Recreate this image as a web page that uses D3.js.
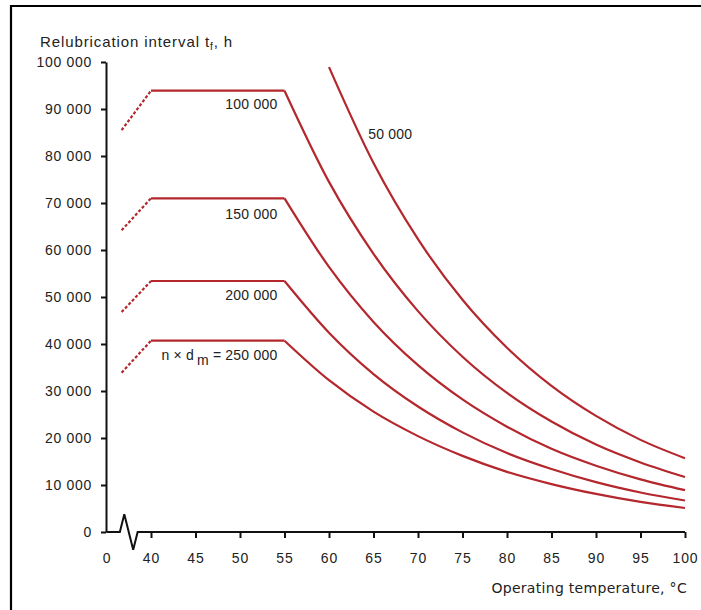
<!DOCTYPE html>
<html>
<head>
<meta charset="utf-8">
<script src="https://cdn.jsdelivr.net/npm/d3@7"></script>
<style>
  body { margin: 0; background: #fff; }
  text { font-family: "Liberation Sans", Arial, sans-serif; fill: #222; }
</style>
</head>
<body>
<script>
// data
const temps = [55, 60, 65, 70, 75, 80, 85, 90, 95, 100];
const temps50k = [60, 65, 70, 75, 80, 85, 90, 95, 100];
const life50k  = [98900, 78500, 62300, 49400, 39200, 31100, 24700, 19600, 15700];
const life100k = [93900, 74500, 59200, 47000, 37300, 29600, 23500, 18600, 14800, 11700];
const life150k = [71000, 56400, 44700, 35500, 28200, 22400, 17700, 14100, 11200, 8900];
const life200k = [53400, 42400, 33600, 26700, 21200, 16800, 13400, 10600, 8400, 6700];
const life250k = [40700, 32300, 25600, 20400, 16200, 12800, 10200, 8100, 6400, 5100];
const dashTemp = 36.7;
const dashStart = [85500, 64200, 46800, 33900];   // dashed part, for 100k..250k
const flatTemp = 40;

const xTicks = [35, 40, 45, 50, 55, 60, 65, 70, 75, 80, 85, 90, 95, 100];
const xTickLabels = ["0", "40", "45", "50", "55", "60", "65", "70", "75", "80", "85", "90", "95", "100"];
const yTicks = [0, 10000, 20000, 30000, 40000, 50000, 60000, 70000, 80000, 90000, 100000];

const labels = [
  {text: "100 000", t: 54.2, v: 90000, anchor: "end"},
  {text: "150 000", t: 54.2, v: 66600, anchor: "end"},
  {text: "200 000", t: 54.2, v: 49400, anchor: "end"},
  {text: "50 000", t: 64.4, v: 83600, anchor: "start"}
];

const W = 701, H = 610;
const red = "#b3272d";

const svg = d3.select("body").append("svg")
    .attr("width", W)
    .attr("height", H);

// frame (only top + left edges show)
svg.append("path")
    .attr("d", "M11," + (H + 5) + "V6H" + (W + 5))
    .attr("fill", "none")
    .attr("stroke", "#000")
    .attr("stroke-width", 2.2);

const x = d3.scaleLinear().domain([35, 100]).range([106.5, 685]);
const y = d3.scaleLinear().domain([0, 100000]).range([532, 62]);

const fmt = v => d3.format(",")(v).replace(/,/g, " ");

// y axis
const yAxis = svg.append("g")
    .attr("transform", "translate(106,0)")
    .call(d3.axisLeft(y).tickValues(yTicks).tickSize(5).tickSizeOuter(0).tickFormat(fmt));
yAxis.select(".domain").attr("stroke", "#111").attr("stroke-width", 2);
yAxis.selectAll(".tick line").attr("stroke", "#111").attr("stroke-width", 2);
yAxis.selectAll(".tick text")
    .attr("x", -14)
    .style("font-size", "14px")
    .style("letter-spacing", "0.7px")
    .attr("fill", "#222");

// x axis with break
const xAxis = svg.append("g")
    .attr("transform", "translate(0,532)")
    .call(d3.axisBottom(x).tickValues(xTicks).tickSize(6).tickSizeOuter(0)
        .tickFormat((d, i) => xTickLabels[i]));
xAxis.select(".domain").remove();
xAxis.selectAll(".tick line")
    .attr("stroke", "#111").attr("stroke-width", 2)
    .attr("display", d => d === 35 ? "none" : null);
xAxis.selectAll(".tick text")
    .attr("y", 21)
    .style("font-size", "14px")
    .style("letter-spacing", "0.9px")
    .attr("fill", "#222");

// axis line with zigzag break
const brk = [[35, 0], [36.5, 0], [37.0, 3800], [38.0, -3800], [38.5, 0], [100, 0]];
svg.append("path")
    .attr("d", d3.line().x(d => x(d[0])).y(d => y(d[1]))(brk))
    .attr("fill", "none")
    .attr("stroke", "#111")
    .attr("stroke-width", 2);

// curves
const line = d3.line()
    .x(d => x(d[0]))
    .y(d => y(d[1]))
    .curve(d3.curveMonotoneX);

const series = [life100k, life150k, life200k, life250k];
series.forEach(function (vals, i) {
    const pts = [[flatTemp, vals[0]]].concat(temps.map((t, j) => [t, vals[j]]));
    // flat part straight, then curve
    svg.append("path")
        .attr("d", d3.line().x(d => x(d[0])).y(d => y(d[1]))(pts.slice(0, 2)))
        .attr("fill", "none").attr("stroke", red).attr("stroke-width", 2.2);
    svg.append("path")
        .attr("d", line(pts.slice(1)))
        .attr("fill", "none").attr("stroke", red).attr("stroke-width", 2.2)
        .attr("stroke-linejoin", "round");
    // dashed lead-in
    svg.append("path")
        .attr("d", d3.line().x(d => x(d[0])).y(d => y(d[1]))([[dashTemp, dashStart[i]], [flatTemp, vals[0]]]))
        .attr("fill", "none").attr("stroke", red).attr("stroke-width", 2.2)
        .attr("stroke-dasharray", "3,2");
});

svg.append("path")
    .attr("d", line(temps50k.map((t, j) => [t, life50k[j]])))
    .attr("fill", "none").attr("stroke", red).attr("stroke-width", 2.2);

// curve labels
labels.forEach(function (l) {
    svg.append("text")
        .attr("x", x(l.t)).attr("y", y(l.v))
        .attr("text-anchor", l.anchor)
        .style("font-size", "14px")
        .style("letter-spacing", "0.2px")
        .text(l.text);
});

const nd = svg.append("text")
    .attr("x", x(54.2)).attr("y", y(36600))
    .attr("text-anchor", "end")
    .style("font-size", "14px")
    .style("letter-spacing", "0.2px");
nd.append("tspan").text("n × d");
nd.append("tspan").attr("dy", 5).attr("dx", 3).text("m");
nd.append("tspan").attr("dy", -5).text(" = 250 000");

// axis titles
const yt = svg.append("text")
    .attr("x", 40).attr("y", 47)
    .style("font-size", "15px")
    .style("letter-spacing", "0.9px");
yt.append("tspan").text("Relubrication interval t");
yt.append("tspan").attr("dy", 3).style("font-size", "10px").text("f");
yt.append("tspan").attr("dy", -3).text(", h");

svg.append("text")
    .attr("x", 687).attr("y", 593)
    .attr("text-anchor", "end")
    .style("font-family", "'DejaVu Sans', sans-serif")
    .style("font-size", "14px")
    .style("letter-spacing", "0.3px")
    .text("Operating temperature, °C");
</script>
</body>
</html>
